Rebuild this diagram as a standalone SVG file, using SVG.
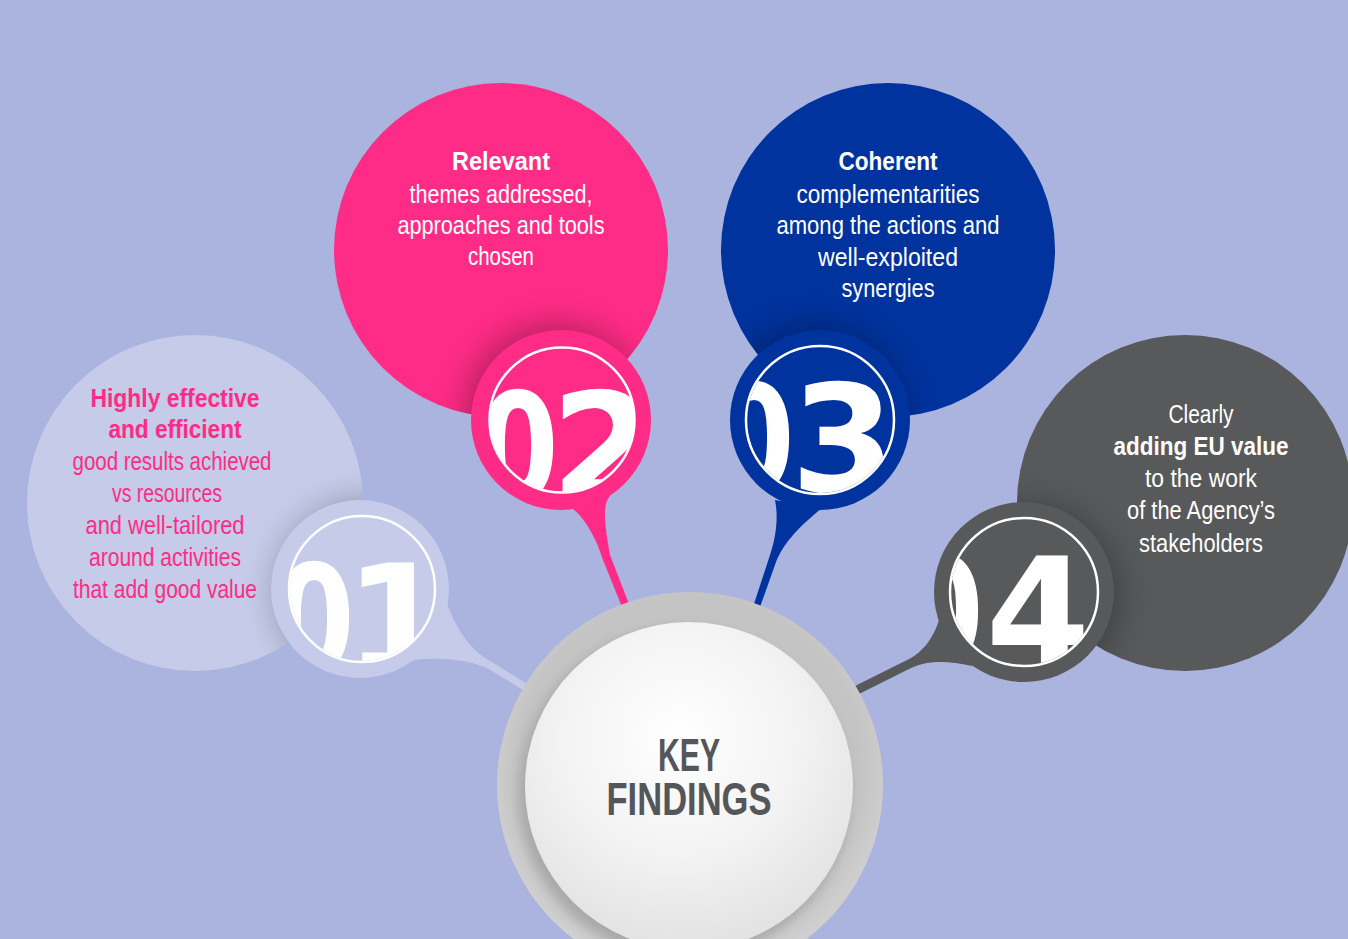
<svg xmlns="http://www.w3.org/2000/svg" width="1348" height="939" viewBox="0 0 1348 939">
  <defs>
    <style>
      .lbl{font-family:"Liberation Sans",Arial,sans-serif;text-anchor:middle;font-size:25px}
      .b{font-weight:bold}
      .pink{fill:#fe2c86}
      .white{fill:#ffffff}
      .num{font-family:"DejaVu Sans","Liberation Sans",sans-serif;font-weight:bold;font-size:150px;fill:#ffffff;text-anchor:middle}
      .ring{fill:none;stroke:#ffffff;stroke-width:2.5}
      .shade{fill:#000000;opacity:0.28}
      .center-txt{font-family:"Liberation Sans",Arial,sans-serif;font-weight:bold;font-size:47px;fill:#55565a;text-anchor:middle}
    </style>
    <filter id="soft" x="-50%" y="-50%" width="200%" height="200%">
      <feGaussianBlur stdDeviation="16"/>
    </filter>
    <filter id="softer" x="-20%" y="-20%" width="140%" height="140%">
      <feGaussianBlur stdDeviation="6"/>
    </filter>
    <clipPath id="clipBig1"><circle cx="195" cy="503" r="168"/></clipPath>
    <clipPath id="clipBig2"><circle cx="501" cy="250" r="167"/></clipPath>
    <clipPath id="clipBig3"><circle cx="888" cy="250" r="167"/></clipPath>
    <clipPath id="clipBig4"><circle cx="1185" cy="503" r="168"/></clipPath>
    <clipPath id="clipNum1"><circle cx="362" cy="589" r="72"/></clipPath>
    <clipPath id="clipNum2"><circle cx="562" cy="420" r="72"/></clipPath>
    <clipPath id="clipNum3"><circle cx="820" cy="420" r="73"/></clipPath>
    <clipPath id="clipNum4"><circle cx="1024" cy="592" r="73"/></clipPath>
    <radialGradient id="sphere" cx="0.47" cy="0.35" r="0.65">
      <stop offset="0" stop-color="#ffffff"/>
      <stop offset="0.55" stop-color="#f3f3f3"/>
      <stop offset="1" stop-color="#e2e2e2"/>
    </radialGradient>
    <radialGradient id="rim" cx="0.5" cy="0.45" r="0.55">
      <stop offset="0.8" stop-color="#c4c4c4"/>
      <stop offset="1" stop-color="#d2d2d2"/>
    </radialGradient>
  </defs>

  <!-- background -->
  <rect x="0" y="0" width="1348" height="939" fill="#aab4de"/>

  <!-- tapered stems linking each badge to the centre -->
  <g id="connectors">
    <path d="M445,598 C455,628 470,650 490,661 L526,683 L523,690 L487,668 C466,659 440,657 413,660 Z" fill="#c5cbe8"/>
    <path d="M573,509 C585,518 597,540 603,560 L622,607 L629,604 L610,555 C606,530 600,503 612,494 Z" fill="#fe2c86"/>
    <path d="M775,500 C779,520 775,540 770,555 L753,607 L760,607 L776,562 C783,545 795,530 822,508 Z" fill="#00339e"/>
    <path d="M941,612 C935,640 920,655 903,662 L855,686 L859,694 L907,670 C925,660 945,660 972,666 Z" fill="#58595b"/>
  </g>

  <!-- finding 01 -->
  <g id="node-1">
    <circle cx="195" cy="503" r="168" fill="#c5cbe8"/>
    <g clip-path="url(#clipBig1)">
      <circle cx="368" cy="592" r="92" class="shade" filter="url(#soft)" opacity="0.18"/>
    </g>
    <text class="lbl pink b" x="175" y="407" font-size="28" textLength="169" lengthAdjust="spacingAndGlyphs">Highly effective</text>
    <text class="lbl pink b" x="175" y="438" font-size="28" textLength="133" lengthAdjust="spacingAndGlyphs">and efficient</text>
    <text class="lbl pink" x="172" y="470" textLength="199" lengthAdjust="spacingAndGlyphs">good results achieved</text>
    <text class="lbl pink" x="167" y="502" textLength="110" lengthAdjust="spacingAndGlyphs">vs resources</text>
    <text class="lbl pink" x="165" y="534" textLength="159" lengthAdjust="spacingAndGlyphs">and well-tailored</text>
    <text class="lbl pink" x="165" y="566" textLength="152" lengthAdjust="spacingAndGlyphs">around activities</text>
    <text class="lbl pink" x="165" y="598" textLength="184" lengthAdjust="spacingAndGlyphs">that add good value</text>
    <circle cx="360" cy="589" r="89" fill="#c5cbe8"/>
    <g clip-path="url(#clipNum1)">
      <text class="num" transform="translate(314,672) scale(0.78,1)">0</text>
      <text class="num" x="397" y="672">1</text>
    </g>
    <circle cx="362" cy="589" r="73" class="ring"/>
  </g>

  <!-- finding 02 -->
  <g id="node-2">
    <circle cx="501" cy="250" r="167" fill="#fe2c86"/>
    <g clip-path="url(#clipBig2)">
      <circle cx="556" cy="416" r="92" class="shade" filter="url(#soft)"/>
    </g>
    <text class="lbl white b" x="501" y="170" textLength="98" lengthAdjust="spacingAndGlyphs">Relevant</text>
    <text class="lbl white" x="501" y="203" textLength="183" lengthAdjust="spacingAndGlyphs">themes addressed,</text>
    <text class="lbl white" x="501" y="234" textLength="207" lengthAdjust="spacingAndGlyphs">approaches and tools</text>
    <text class="lbl white" x="501" y="265" textLength="66" lengthAdjust="spacingAndGlyphs">chosen</text>
    <circle cx="561" cy="420" r="90" fill="#fe2c86"/>
    <g clip-path="url(#clipNum2)">
      <text class="num" transform="translate(518,500) scale(0.78,1)">0</text>
      <text class="num" x="603" y="500">2</text>
    </g>
    <circle cx="562" cy="420" r="72.5" class="ring"/>
  </g>

  <!-- finding 03 -->
  <g id="node-3">
    <circle cx="888" cy="250" r="167" fill="#00339e"/>
    <g clip-path="url(#clipBig3)">
      <circle cx="815" cy="416" r="92" class="shade" filter="url(#soft)"/>
    </g>
    <text class="lbl white b" x="888" y="170" textLength="99" lengthAdjust="spacingAndGlyphs">Coherent</text>
    <text class="lbl white" x="888" y="203" textLength="183" lengthAdjust="spacingAndGlyphs">complementarities</text>
    <text class="lbl white" x="888" y="234" textLength="223" lengthAdjust="spacingAndGlyphs">among the actions and</text>
    <text class="lbl white" x="888" y="266" textLength="140" lengthAdjust="spacingAndGlyphs">well-exploited</text>
    <text class="lbl white" x="888" y="297" textLength="93" lengthAdjust="spacingAndGlyphs">synergies</text>
    <circle cx="820" cy="420" r="90" fill="#00339e"/>
    <g clip-path="url(#clipNum3)">
      <text class="num" transform="translate(754,492) scale(0.78,1)">0</text>
      <text class="num" x="843" y="492">3</text>
    </g>
    <circle cx="820" cy="420" r="74" class="ring"/>
  </g>

  <!-- finding 04 -->
  <g id="node-4">
    <circle cx="1185" cy="503" r="168" fill="#58595b"/>
    <g clip-path="url(#clipBig4)">
      <circle cx="1028" cy="596" r="92" class="shade" filter="url(#soft)"/>
    </g>
    <text class="lbl white" x="1201" y="423" textLength="65" lengthAdjust="spacingAndGlyphs">Clearly</text>
    <text class="lbl white b" x="1201" y="455" textLength="175" lengthAdjust="spacingAndGlyphs">adding EU value</text>
    <text class="lbl white" x="1201" y="487" textLength="112" lengthAdjust="spacingAndGlyphs">to the work</text>
    <text class="lbl white" x="1201" y="519" textLength="148" lengthAdjust="spacingAndGlyphs">of the Agency’s</text>
    <text class="lbl white" x="1201" y="552" textLength="124" lengthAdjust="spacingAndGlyphs">stakeholders</text>
    <circle cx="1024" cy="592" r="90" fill="#58595b"/>
    <g clip-path="url(#clipNum4)">
      <text class="num" transform="translate(943,665) scale(0.78,1)">0</text>
      <text class="num" x="1038" y="665">4</text>
    </g>
    <circle cx="1024" cy="592" r="74" class="ring"/>
  </g>

  <!-- central hub -->
  <g id="key-findings">
    <circle cx="690" cy="785" r="193" fill="url(#rim)"/>
    <circle cx="684" cy="793" r="166" fill="#a9a9a9" filter="url(#softer)"/>
    <circle cx="689" cy="786" r="164" fill="url(#sphere)"/>
    <text class="center-txt" x="689" y="771" textLength="62" lengthAdjust="spacingAndGlyphs">KEY</text>
    <text class="center-txt" x="689" y="815" textLength="165" lengthAdjust="spacingAndGlyphs">FINDINGS</text>
  </g>
</svg>
